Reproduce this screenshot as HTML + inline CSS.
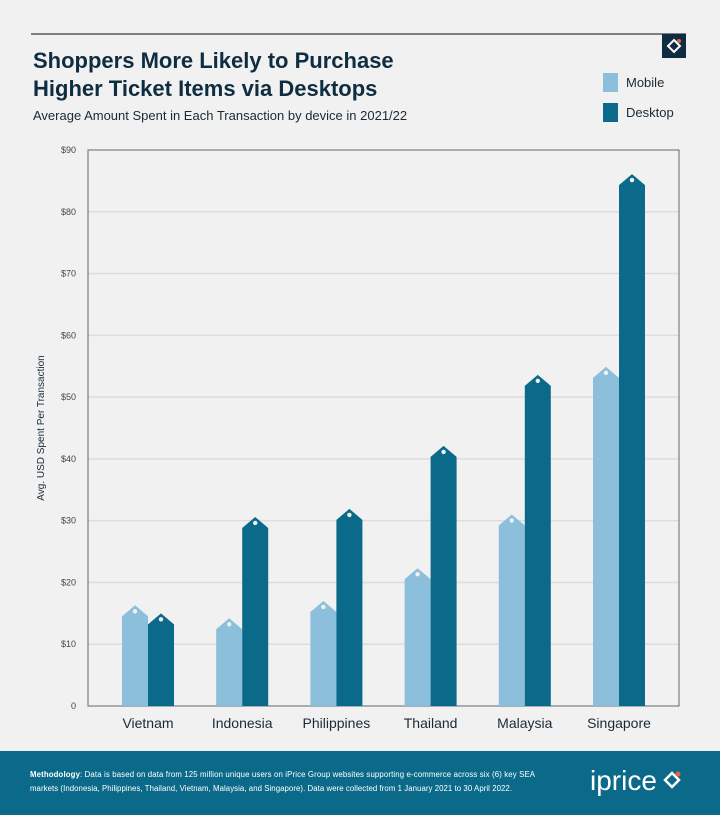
<!DOCTYPE html>
<html><head><meta charset="utf-8"><style>
body{margin:0;background:#f1f1f1;font-family:"Liberation Sans",sans-serif;}
#wrap{position:relative;width:720px;height:815px;overflow:hidden;background:#f1f1f1;}
</style></head><body>
<div id="wrap">
<svg id="chart" width="720" height="815">
<line x1="31" y1="34" x2="686" y2="34" stroke="#7f7f7f" stroke-width="2"/>
<rect x="662" y="34" width="24" height="24" fill="#0f2d40"/>
<path d="M674 40 L680 46 L674 52 L668 46 Z" fill="none" stroke="#fff" stroke-width="2"/>
<circle cx="679" cy="41" r="2" fill="#e8643c"/>
<text x="33" y="68" font-size="22" font-weight="bold" fill="#0f2d40">Shoppers More Likely to Purchase</text>
<text x="33" y="96" font-size="22" font-weight="bold" fill="#0f2d40">Higher Ticket Items via Desktops</text>
<text x="33" y="120" font-size="13" fill="#1a2a35">Average Amount Spent in Each Transaction by device in 2021/22</text>
<rect x="603" y="73" width="15" height="19" fill="#8bbfdb"/>
<text x="626" y="87" font-size="13" fill="#1a2a35">Mobile</text>
<rect x="603" y="103" width="15" height="19" fill="#0b6a8a"/>
<text x="626" y="117" font-size="13" fill="#1a2a35">Desktop</text>
<g id="grid"></g>
<rect x="88" y="150" width="591" height="556" fill="none" stroke="#5a6a75" stroke-width="1"/>
<g id="bars"></g>
<text transform="translate(44,428) rotate(-90)" text-anchor="middle" font-size="10" fill="#1a2a35">Avg. USD Spent Per Transaction</text>
<rect x="0" y="751" width="720" height="64" fill="#0b6a8a"/>
<text x="30" y="777" font-size="7.8" fill="#fff" textLength="505"><tspan font-weight="bold">Methodology</tspan>: Data is based on data from 125 million unique users on iPrice Group websites supporting e-commerce across six (6) key SEA</text>
<text x="30" y="791" font-size="7.8" fill="#fff" textLength="482">markets (Indonesia, Philippines, Thailand, Vietnam, Malaysia, and Singapore). Data were collected from 1 January 2021 to 30 April 2022.</text>
<text x="590" y="790" font-size="28" fill="#fff">iprice</text>
<path d="M672 773 L679 780 L672 787 L665 780 Z" fill="none" stroke="#fff" stroke-width="2.5"/>
<circle cx="678" cy="774" r="2.5" fill="#e8643c"/>
</svg>
</div>
<script>
const categories=["Vietnam","Indonesia","Philippines","Thailand","Malaysia","Singapore"];
const mobileValues=[16.3,14.2,17.0,22.3,31.0,54.9];
const desktopValues=[15.0,30.6,31.9,42.1,53.6,86.1];
const yTicks=[0,10,20,30,40,50,60,70,80,90];
const yTickLabels=["0","$10","$20","$30","$40","$50","$60","$70","$80","$90"];
const NS="http://www.w3.org/2000/svg";
function y(v){return 706-v*(556/90);}
function xc(i){return 148+i*94.2;}
const grid=document.getElementById('grid'),bars=document.getElementById('bars');
yTicks.forEach((t,k)=>{
  if(t>0&&t<90){const l=document.createElementNS(NS,'line');
  l.setAttribute('x1',88);l.setAttribute('x2',679);l.setAttribute('y1',y(t));l.setAttribute('y2',y(t));
  l.setAttribute('stroke','#dcdcdc');l.setAttribute('stroke-width','1.5');
  
  
  grid.appendChild(l);}
  const tx=document.createElementNS(NS,'text');
  tx.setAttribute('x',76);tx.setAttribute('y',y(t)+3);tx.setAttribute('text-anchor','end');
  tx.setAttribute('font-size','9');tx.setAttribute('fill','#444');tx.textContent=yTickLabels[k];
  
  
  grid.appendChild(tx);
});
function tag(x0,v,color,name){
  const w=26,top=y(v),sh=top+11,b=706;
  const p=document.createElementNS(NS,'path');
  p.setAttribute('d',`M${x0} ${b} L${x0} ${sh} L${x0+w/2} ${top} L${x0+w} ${sh} L${x0+w} ${b} Z`);
  p.setAttribute('fill',color);
  
  
  bars.appendChild(p);
  const c=document.createElementNS(NS,'circle');
  c.setAttribute('cx',x0+w/2);c.setAttribute('cy',top+6);c.setAttribute('r',2.2);c.setAttribute('fill','#f1f1f1');
  
  
  bars.appendChild(c);
}
categories.forEach((c,i)=>{
  tag(xc(i)-26,mobileValues[i],'#8bbfdb','bar-mobile-'+c.toLowerCase());
  tag(xc(i),desktopValues[i],'#0b6a8a','bar-desktop-'+c.toLowerCase());
  const t=document.createElementNS(NS,'text');
  t.setAttribute('x',xc(i));t.setAttribute('y',728);t.setAttribute('text-anchor','middle');
  t.setAttribute('font-size','14');t.setAttribute('fill','#1a2a35');t.textContent=c;
  
  
  bars.appendChild(t);
});
</script>
</body></html>
